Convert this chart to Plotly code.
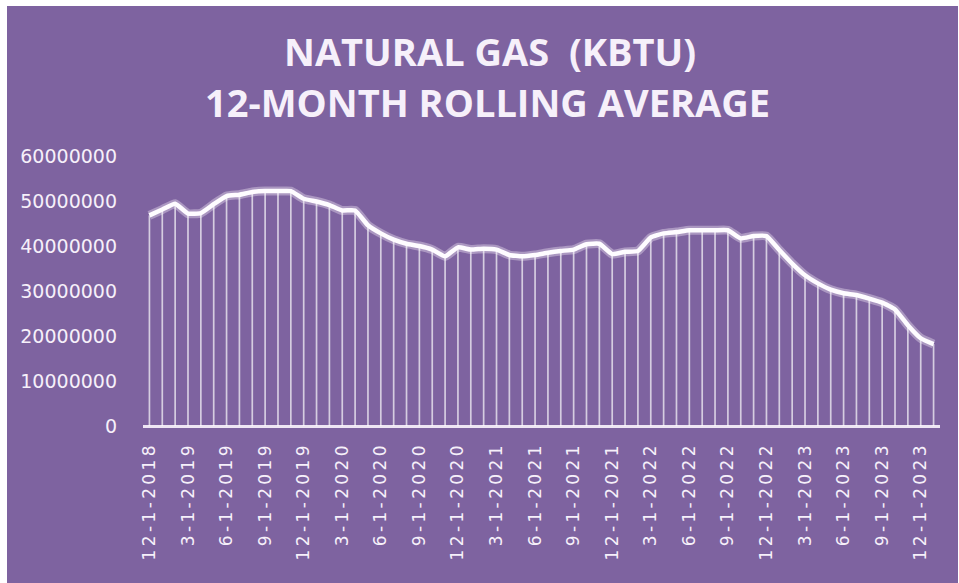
import plotly.graph_objects as go

# ---- data ----
months = [
    "12-1-2018", "1-1-2019", "2-1-2019", "3-1-2019", "4-1-2019", "5-1-2019", "6-1-2019",
    "7-1-2019", "8-1-2019", "9-1-2019", "10-1-2019", "11-1-2019", "12-1-2019",
    "1-1-2020", "2-1-2020", "3-1-2020", "4-1-2020", "5-1-2020", "6-1-2020",
    "7-1-2020", "8-1-2020", "9-1-2020", "10-1-2020", "11-1-2020", "12-1-2020",
    "1-1-2021", "2-1-2021", "3-1-2021", "4-1-2021", "5-1-2021", "6-1-2021",
    "7-1-2021", "8-1-2021", "9-1-2021", "10-1-2021", "11-1-2021", "12-1-2021",
    "1-1-2022", "2-1-2022", "3-1-2022", "4-1-2022", "5-1-2022", "6-1-2022",
    "7-1-2022", "8-1-2022", "9-1-2022", "10-1-2022", "11-1-2022", "12-1-2022",
    "1-1-2023", "2-1-2023", "3-1-2023", "4-1-2023", "5-1-2023", "6-1-2023",
    "7-1-2023", "8-1-2023", "9-1-2023", "10-1-2023", "11-1-2023", "12-1-2023",
    "1-1-2024",
]
gas_kbtu = [
    46.8, 48.1, 49.4, 47.2, 47.3, 49.3, 51.1, 51.4, 52.0, 52.2, 52.2, 52.2,
    50.5, 49.9, 49.1, 47.9, 47.9, 44.6, 42.8, 41.4, 40.5, 40.0, 39.2, 37.7,
    39.7, 39.2, 39.4, 39.2, 38.0, 37.7, 38.0, 38.5, 38.9, 39.2, 40.4, 40.5,
    38.2, 38.7, 38.9, 41.9, 42.8, 43.1, 43.5, 43.5, 43.5, 43.5, 41.7, 42.2,
    42.2, 39.1, 36.1, 33.5, 31.7, 30.3, 29.5, 29.1, 28.3, 27.4, 25.9, 22.4,
    19.5, 18.2,
]
gas_kbtu = [v * 1_000_000 for v in gas_kbtu]
y_ticks = [0, 10000000, 20000000, 30000000, 40000000, 50000000, 60000000]
title_lines = ["NATURAL GAS  (KBTU)", "12-MONTH ROLLING AVERAGE"]

# ---- styling ----
PURPLE = "rgb(126,99,160)"
TXT = "#f6f0fa"
W, H = 959, 583
L, R, T, B = 143, 19, 156, 157
pw, ph = W - L - R, H - T - B

def px_x(px):  # page px -> paper
    return (px - L) / pw

def px_y(py):
    return (H - B - py) / ph

idx = list(range(len(months)))

fig = go.Figure()
# drop lines built from data
dx, dy = [], []
for i, v in zip(idx, gas_kbtu):
    dx += [i, i, None]
    dy += [0, v, None]
fig.add_trace(go.Scatter(x=dx, y=dy, mode="lines",
                         line=dict(color="rgba(255,255,255,0.68)", width=1.7),
                         hoverinfo="skip", showlegend=False))
fig.add_trace(go.Scatter(x=idx, y=gas_kbtu, mode="lines",
                         line=dict(color="rgba(255,250,255,0.35)", width=9, shape="spline", smoothing=0.4),
                         hoverinfo="skip", showlegend=False))
fig.add_trace(go.Scatter(x=idx, y=gas_kbtu, mode="lines",
                         line=dict(color="#fefcff", width=4.5, shape="spline", smoothing=0.4),
                         showlegend=False))

tickvals = idx[::3]
THIN = "\u2009"
ticktext = [THIN.join(months[i]) for i in tickvals]

fig.update_layout(
    width=W, height=H,
    margin=dict(l=L, r=R, t=T, b=B),
    paper_bgcolor="white",
    plot_bgcolor="rgba(0,0,0,0)",
    xaxis=dict(range=[-0.5, len(months) - 0.5], tickmode="array",
               tickvals=tickvals, ticktext=ticktext, tickangle=-90,
               showgrid=False, zeroline=False, showline=False, ticks="",
               ticklabelstandoff=15,
               tickfont=dict(family="DejaVu Sans", size=17, color=TXT)),
    yaxis=dict(range=[0, 60000000], tickmode="array", tickvals=y_ticks,
               ticktext=[str(v) for v in y_ticks],
               showgrid=False, zeroline=True, zerolinecolor="#eee6f4", zerolinewidth=2.5,
               showline=False, ticks="", ticklabelstandoff=25,
               tickfont=dict(family="DejaVu Sans", size=19, color=TXT)),
    shapes=[dict(type="rect", xref="paper", yref="paper", layer="below",
                 x0=px_x(7), x1=px_x(958), y0=px_y(6), y1=px_y(583),
                 fillcolor=PURPLE, line=dict(width=0))],
    annotations=[
        dict(text=f"<b>{title_lines[0]}</b>", xref="paper", yref="paper",
             x=px_x(490), y=px_y(51), xanchor="center", yanchor="middle",
             showarrow=False, font=dict(family="Open Sans", size=38, color=TXT)),
        dict(text=f"<b>{title_lines[1]}</b>", xref="paper", yref="paper",
             x=px_x(487), y=px_y(102), xanchor="center", yanchor="middle",
             showarrow=False, font=dict(family="Open Sans", size=38, color=TXT)),
    ],
)

fig.write_html("out.html", config={"displayModeBar": False},
               post_script="document.body.style.margin='0';document.body.style.overflow='hidden';")
